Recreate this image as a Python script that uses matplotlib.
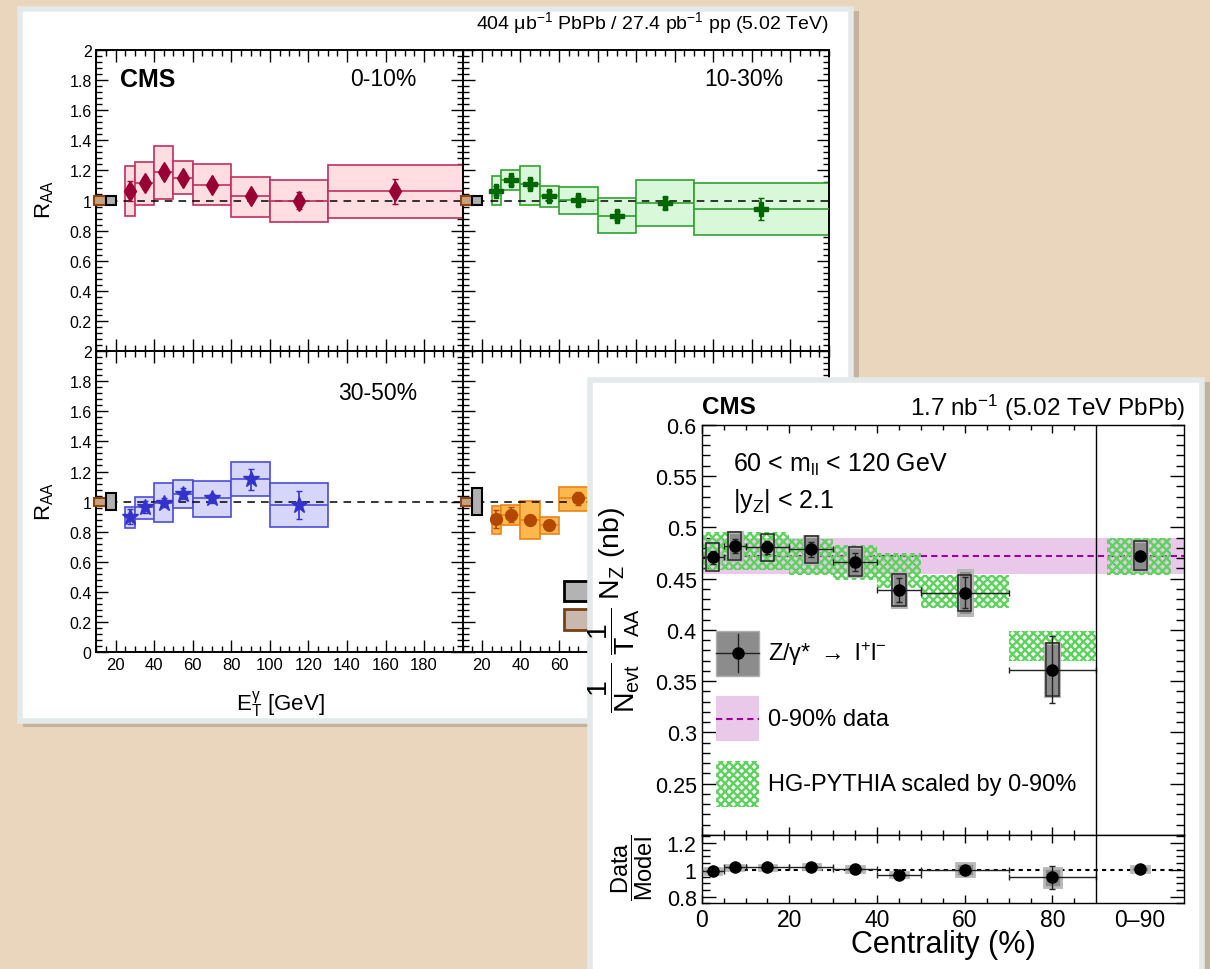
import matplotlib.pyplot as plt
from matplotlib.patches import Rectangle
from matplotlib.ticker import FixedLocator, FuncFormatter, MultipleLocator

# ------------------------------------------------------------
# Data: photon R_AA vs E_T (left card)
# ------------------------------------------------------------

BIN_LO = [25, 30, 40, 50, 60, 80, 100, 130]
BIN_HI = [30, 40, 50, 60, 80, 100, 130, 200]

RAA_0_10 = [1.065, 1.114, 1.187, 1.149, 1.105, 1.028, 0.999, 1.061]
STAT_0_10 = [0.065, 0.04, 0.04, 0.035, 0.03, 0.03, 0.055, 0.085]
TOP_0_10 = [1.231, 1.253, 1.364, 1.262, 1.242, 1.158, 1.138, 1.238]
BOT_0_10 = [0.899, 0.970, 1.010, 1.041, 0.970, 0.888, 0.859, 0.886]

RAA_10_30 = [1.064, 1.136, 1.110, 1.032, 1.003, 0.900, 0.981, 0.944]
STAT_10_30 = [0.03, 0.03, 0.03, 0.03, 0.03, 0.03, 0.04, 0.075]
TOP_10_30 = [1.163, 1.202, 1.231, 1.098, 1.092, 1.016, 1.134, 1.114]
BOT_10_30 = [0.970, 1.073, 0.970, 0.955, 0.910, 0.781, 0.830, 0.770]

RAA_30_50 = [0.899, 0.966, 0.994, 1.054, 1.021, 1.150, 0.979]
STAT_30_50 = [0.05, 0.04, 0.03, 0.035, 0.03, 0.07, 0.095]
TOP_30_50 = [0.966, 1.032, 1.123, 1.143, 1.136, 1.260, 1.121]
BOT_30_50 = [0.822, 0.888, 0.868, 0.957, 0.895, 1.039, 0.835]

RAA_50_90 = [0.884, 0.912, 0.877, 0.844, 1.021]
STAT_50_90 = [0.06, 0.05, 0.03, 0.03, 0.04]
TOP_50_90 = [0.972, 0.979, 1.001, 0.901, 1.098]
BOT_50_90 = [0.784, 0.844, 0.751, 0.784, 0.939]

# normalisation boxes at R_AA = 1 (T_AA, pp lumi), half heights
TAA_HALF = [0.027, 0.03, 0.056, 0.09]
LUMI_HALF = 0.027

# ------------------------------------------------------------
# Data: Z yields vs centrality (right card)
# ------------------------------------------------------------

CENT = [2.5, 7.5, 15, 25, 35, 45, 60, 80, 100]
CENT_HALF = [2.5, 2.5, 5, 5, 5, 5, 10, 10, 0]
NZ = [0.4706, 0.4819, 0.4803, 0.4784, 0.4664, 0.4388, 0.4363, 0.3612, 0.4722]
NZ_STAT = [0.006, 0.007, 0.006, 0.007, 0.009, 0.012, 0.015, 0.033, 0.003]
NZ_SYST = [0.0136, 0.0134, 0.0136, 0.0133, 0.0141, 0.0158, 0.0175, 0.026, 0.014]
NZ_TAA = [0.004, 0.0134, 0.004, 0.0133, 0.0141, 0.0165, 0.022, 0.026, 0.014]

MB_VALUE = 0.4722
MB_LOW = 0.4544
MB_HIGH = 0.490

MODEL_LO = [0, 10, 20, 30, 40, 50, 70, 92.5]
MODEL_HI = [10, 20, 30, 40, 50, 70, 90, 107]
MODEL_TOP = [0.4955, 0.495, 0.489, 0.4832, 0.4745, 0.4535, 0.399, 0.4897]
MODEL_BOT = [0.4585, 0.458, 0.4535, 0.4486, 0.4405, 0.421, 0.370, 0.4534]

RATIO = [0.991, 1.019, 1.019, 1.023, 1.006, 0.963, 1.001, 0.943, 1.006]
RATIO_STAT = [0.01, 0.01, 0.01, 0.01, 0.015, 0.02, 0.03, 0.088, 0.005]
RATIO_SYST = [0.02, 0.02, 0.02, 0.02, 0.02, 0.02, 0.05, 0.072, 0.02]

CENT_TICKS = [0, 20, 40, 60, 80, 100]
CENT_LABELS = ["0", "20", "40", "60", "80", "0\u201390"]

# ------------------------------------------------------------
# Style
# ------------------------------------------------------------

plt.rcParams["font.family"] = ["Liberation Sans", "DejaVu Sans"]
plt.rcParams["mathtext.fontset"] = "custom"
plt.rcParams["mathtext.rm"] = "Liberation Sans"
plt.rcParams["mathtext.it"] = "Liberation Sans:italic"
plt.rcParams["mathtext.bf"] = "Liberation Sans:bold"
plt.rcParams["mathtext.default"] = "regular"
plt.rcParams["hatch.linewidth"] = 1.7

W, H = 1210, 970
WOOD = "#ead6bd"

fig = plt.figure(figsize=(W / 100, H / 100), dpi=100, facecolor=WOOD)


def fx(x):
    return x / W


def fy(y):
    return 1 - y / H


def rect(x0, y0, x1, y1):
    # pixel box (origin top-left) -> figure fraction [l, b, w, h]
    return [x0 / W, 1 - y1 / H, (x1 - x0) / W, (y1 - y0) / H]


def card(x0, y0, x1, y1, z):
    fig.add_artist(Rectangle((fx(x0 + 3), fy(y1 + 6)), (x1 - x0 + 5) / W, (y1 - y0 + 4) / H,
                             transform=fig.transFigure, facecolor="#a89684", alpha=0.55,
                             lw=0, zorder=z))
    fig.add_artist(Rectangle((fx(x0), fy(y1)), (x1 - x0) / W, (y1 - y0) / H,
                             transform=fig.transFigure, facecolor="white",
                             edgecolor="#e4eaea", lw=4, zorder=z + 0.1))


def ftext(x, y, s, z, **kw):
    fig.text(fx(x), fy(y), s, zorder=z, **kw)


# ------------------------------------------------------------
# Left card: R_AA panels
# ------------------------------------------------------------

card(20, 10, 851, 722, 1)

XL, XM, XR = 96.4, 462.6, 828.8
YT, YM, YB = 51, 352, 653.3

ax_tl = fig.add_axes(rect(XL, YT, XM, YM))
ax_tr = fig.add_axes(rect(XM, YT, XR, YM))
ax_bl = fig.add_axes(rect(XL, YM, XM, YB))
ax_br = fig.add_axes(rect(XM, YM, XR, YB))


def raa_panel(ax, vals, stat, top, bot, marker, ms, mcolor, fcolor, ecolor, taa_half):
    n = len(vals)
    lo, hi = BIN_LO[:n], BIN_HI[:n]
    for l, h, t, b in zip(lo, hi, top, bot):
        ax.add_patch(Rectangle((l, b), h - l, t - b, facecolor=fcolor,
                               edgecolor=ecolor, lw=1.2, zorder=2))
    ax.axhline(1, color="black", ls=(0, (5, 4)), lw=1.1, zorder=2.5)
    ax.hlines(vals, lo, hi, colors=ecolor, lw=1.2, zorder=3)
    xc = [(l + h) / 2 for l, h in zip(lo, hi)]
    ax.errorbar(xc, vals, yerr=stat, fmt=marker, ms=ms, color=mcolor,
                ecolor=mcolor, elinewidth=1.2, capsize=2.5, zorder=4)
    # normalisation uncertainty boxes
    ax.add_patch(Rectangle((9, 1 - LUMI_HALF), 6, 2 * LUMI_HALF, facecolor="#c8a07a",
                           edgecolor="#8b4513", lw=1.5, clip_on=False, zorder=3))
    ax.add_patch(Rectangle((15, 1 - taa_half), 5, 2 * taa_half, facecolor="#b0b0b0",
                           edgecolor="black", lw=1.5, clip_on=False, zorder=3))

    ax.set_xlim(10, 200)
    ax.set_ylim(0, 2)
    ax.xaxis.set_major_locator(FixedLocator(list(range(20, 200, 20))))
    ax.xaxis.set_minor_locator(MultipleLocator(5))
    ax.yaxis.set_major_locator(MultipleLocator(0.2))
    ax.yaxis.set_minor_locator(MultipleLocator(0.04))
    ax.tick_params(which="both", direction="in", top=True, right=True, width=1)
    ax.tick_params(which="major", length=8.5)
    ax.tick_params(which="minor", length=4.3)
    ax.tick_params(axis="y", labelsize=11.5, pad=3.4)
    ax.tick_params(axis="x", labelsize=12, pad=3.5)
    for sp in ax.spines.values():
        sp.set_linewidth(1.4)
    ax.set_zorder(2)


raa_panel(ax_tl, RAA_0_10, STAT_0_10, TOP_0_10, BOT_0_10, "d", 10,
          "#990033", "#ffdde1", "#c03060", TAA_HALF[0])
raa_panel(ax_tr, RAA_10_30, STAT_10_30, TOP_10_30, BOT_10_30, "P", 10,
          "#006600", "#d9f7d9", "#33a033", TAA_HALF[1])
raa_panel(ax_bl, RAA_30_50, STAT_30_50, TOP_30_50, BOT_30_50, "*", 12,
          "#3333cc", "#d6d6fa", "#4d4dd9", TAA_HALF[2])
raa_panel(ax_br, RAA_50_90, STAT_50_90, TOP_50_90, BOT_50_90, "o", 8.5,
          "#b34700", "#ffb84d", "#e8851a", TAA_HALF[3])

ax_tl.yaxis.set_major_formatter(FuncFormatter(lambda v, p: "" if abs(v) < 1e-9 else f"{v:g}"))
ax_bl.yaxis.set_major_formatter(FuncFormatter(lambda v, p: f"{v:g}"))
# labels of the last panel beyond 60 GeV sit under the second card
ax_br.xaxis.set_major_formatter(FuncFormatter(lambda v, p: f"{v:g}" if v <= 60 else ""))
ax_tl.tick_params(labelbottom=False)
ax_tr.tick_params(labelbottom=False, labelleft=False)
ax_br.tick_params(labelleft=False)

# legend boxes of the last panel (partly hidden under the second card)
fig.add_artist(Rectangle((fx(564), fy(602.3)), 46 / W, 20.6 / H, transform=fig.transFigure,
                         facecolor="#b3b3b3", edgecolor="black", lw=2, zorder=2.5))
fig.add_artist(Rectangle((fx(564), fy(630.7)), 46 / W, 20.7 / H, transform=fig.transFigure,
                         facecolor="#c9b8ae", edgecolor="#7a3f10", lw=2, zorder=2.5))

ftext(XR, 23, "404 \u03bcb$^{-1}$ PbPb / 27.4 pb$^{-1}$ pp (5.02 TeV)", 2.5,
      ha="right", va="center", fontsize=14)
ftext(120, 80, "CMS", 2.5, ha="left", va="center", fontsize=18, fontweight="bold")
ftext(417, 80, "0-10%", 2.5, ha="right", va="center", fontsize=16.5)
ftext(783, 80, "10-30%", 2.5, ha="right", va="center", fontsize=16.5)
ftext(417, 393, "30-50%", 2.5, ha="right", va="center", fontsize=16.5)
ftext(45, 200, "R$_{AA}$", 2.5, ha="center", va="center", rotation=90, fontsize=16)
ftext(45, 502, "R$_{AA}$", 2.5, ha="center", va="center", rotation=90, fontsize=16)
ftext(280, 705, "E$_{T}^{\u03b3}$ [GeV]", 2.5, ha="center", va="center", fontsize=16)

# ------------------------------------------------------------
# Right card: Z yields vs centrality
# ------------------------------------------------------------

card(590, 381, 1202, 985, 3)

PX0, PX1 = 701.7, 1184
PY0, PY1, PY2 = 425.7, 836, 904.3

ax_z = fig.add_axes(rect(PX0, PY0, PX1, PY1))
ax_r = fig.add_axes(rect(PX0, PY1, PX1, PY2))

HATCH_GREEN = "#5cd35c"
HATCH = "xxxx"
PINK = "#e9c8e9"
PURPLE = "#9b009b"

ax_z.axhspan(MB_LOW, MB_HIGH, color=PINK, lw=0, zorder=1)
ax_z.axhline(MB_VALUE, color=PURPLE, ls=(0, (3, 2)), lw=1.5, zorder=1.5)
for lo, hi, t, b in zip(MODEL_LO, MODEL_HI, MODEL_TOP, MODEL_BOT):
    ax_z.add_patch(Rectangle((lo, b), hi - lo, t - b, facecolor="none",
                             edgecolor=HATCH_GREEN, hatch=HATCH, lw=0, zorder=2))

for x, y, g, s in zip(CENT, NZ, NZ_TAA, NZ_SYST):
    ax_z.add_patch(Rectangle((x - 1.6, y - g), 3.2, 2 * g, facecolor="#8c8c8c",
                             edgecolor="#b8b8b8", lw=2.2, zorder=3))
    ax_z.add_patch(Rectangle((x - 1.5, y - s), 3.0, 2 * s, facecolor="none",
                             edgecolor="#222222", lw=1.1, zorder=3.2))
ax_z.errorbar(CENT, NZ, yerr=NZ_STAT, xerr=CENT_HALF, fmt="o", ms=8, color="black",
              ecolor="#222222", elinewidth=1, capsize=2.5, zorder=4)

for x, y, s in zip(CENT, RATIO, RATIO_SYST):
    ax_r.add_patch(Rectangle((x - 2, y - s), 4, 2 * s, facecolor="#8c8c8c",
                             edgecolor="#b8b8b8", lw=2, zorder=3))
ax_r.axhline(1, color="black", ls=(0, (2, 2)), lw=1.5, zorder=2)
ax_r.errorbar(CENT, RATIO, yerr=RATIO_STAT, xerr=CENT_HALF, fmt="o", ms=8, color="black",
              ecolor="#222222", elinewidth=1, capsize=2.5, zorder=4)

for ax in (ax_z, ax_r):
    ax.axvline(90, color="black", lw=1, zorder=5)
    ax.set_xlim(0, 110)
    ax.xaxis.set_major_locator(FixedLocator(CENT_TICKS))
    ax.xaxis.set_minor_locator(FixedLocator([v for v in range(5, 90, 5) if v % 20]))
    ax.tick_params(which="both", direction="in", top=True, right=True, width=1)
    ax.tick_params(axis="y", which="major", length=10)
    ax.tick_params(axis="y", which="minor", length=5.5)
    ax.tick_params(axis="x", which="major", length=6)
    ax.tick_params(axis="x", which="minor", length=3.5)
    ax.tick_params(axis="y", labelsize=15.5, pad=3.6)
    for sp in ax.spines.values():
        sp.set_linewidth(1)
    ax.set_zorder(5)

ax_z.set_ylim(0.2, 0.6)
ax_z.yaxis.set_major_locator(FixedLocator([0.25, 0.3, 0.35, 0.4, 0.45, 0.5, 0.55, 0.6]))
ax_z.yaxis.set_minor_locator(MultipleLocator(0.01))
ax_z.yaxis.set_major_formatter(FuncFormatter(lambda v, p: f"{v:g}"))
ax_z.tick_params(labelbottom=False)

ax_r.set_ylim(0.75, 1.26)
ax_r.yaxis.set_major_locator(FixedLocator([0.8, 1.0, 1.2]))
ax_r.yaxis.set_minor_locator(MultipleLocator(0.05))
ax_r.yaxis.set_major_formatter(FuncFormatter(lambda v, p: f"{v:g}"))
ax_r.set_xticks(CENT_TICKS, CENT_LABELS)
ax_r.tick_params(axis="x", labelsize=16.5, pad=3.6)
for ax in (ax_z, ax_r):
    last = ax.xaxis.get_major_ticks()[-1]
    last.tick1line.set_visible(False)
    last.tick2line.set_visible(False)

# hand-made legend, positions in axes fraction of the main panel


def ax_pt(px, py):
    return (px - PX0) / (PX1 - PX0), (PY1 - py) / (PY1 - PY0)


def leg_box(py0, py1, **kw):
    x0, y0 = ax_pt(716, py1)
    x1, y1 = ax_pt(759.3, py0)
    ax_z.add_patch(Rectangle((x0, y0), x1 - x0, y1 - y0, transform=ax_z.transAxes,
                             clip_on=False, zorder=6, **kw))


leg_box(631.7, 676.7, facecolor="#8c8c8c", edgecolor="#b0b0b0", lw=1)
cx, cy = ax_pt(737.7, 654)
_, ytop = ax_pt(0, 635)
_, ybot = ax_pt(0, 673)
xl, _ = ax_pt(716, 0)
xr, _ = ax_pt(759.3, 0)
ax_z.plot([cx, cx], [ybot, ytop], color="#222222", lw=1, transform=ax_z.transAxes, zorder=6.5)
ax_z.plot([xl, xr], [cy, cy], color="#222222", lw=1, transform=ax_z.transAxes, zorder=6.5)
ax_z.plot([cx], [cy], "o", ms=8, color="black", transform=ax_z.transAxes, zorder=7)

leg_box(696.7, 742.3, facecolor=PINK, lw=0)
_, ly = ax_pt(0, 720)
ax_z.plot([xl, xr], [ly, ly], color=PURPLE, ls=(0, (3, 2)), lw=1.5,
          transform=ax_z.transAxes, zorder=6.5)
leg_box(761.7, 808.3, facecolor="none", edgecolor=HATCH_GREEN, hatch=HATCH, lw=0)

for py, label in [(654, "Z/$\\gamma$* $\\rightarrow$ l$^{+}$l$^{-}$"),
                  (720, "0-90% data"),
                  (785, "HG-PYTHIA scaled by 0-90%")]:
    tx, ty = ax_pt(768.3, py)
    ax_z.text(tx, ty, label, transform=ax_z.transAxes, ha="left", va="center",
              fontsize=17, zorder=7)

ftext(PX0, 408, "CMS", 6, ha="left", va="center", fontsize=17.5, fontweight="bold")
ftext(1185, 408, "1.7 nb$^{-1}$ (5.02 TeV PbPb)", 6, ha="right", va="center", fontsize=17.5)
ftext(733, 465, "60 < m$_{ll}$ < 120 GeV", 6, ha="left", va="center", fontsize=18)
ftext(733, 501, "|y$_{Z}$| < 2.1", 6, ha="left", va="center", fontsize=18)
ftext(614, 610, r"$\dfrac{1}{N_{evt}}\;\dfrac{1}{T_{AA}}\;N_{Z}$ (nb)", 6,
      ha="center", va="center", rotation=90, fontsize=20.5)
ftext(632, 868, r"$\dfrac{Data}{Model}$", 6, ha="center", va="center",
      rotation=90, fontsize=17)
ftext(943, 945, "Centrality (%)", 6, ha="center", va="center", fontsize=22)

fig.savefig("out.png", dpi=100, facecolor=WOOD)
